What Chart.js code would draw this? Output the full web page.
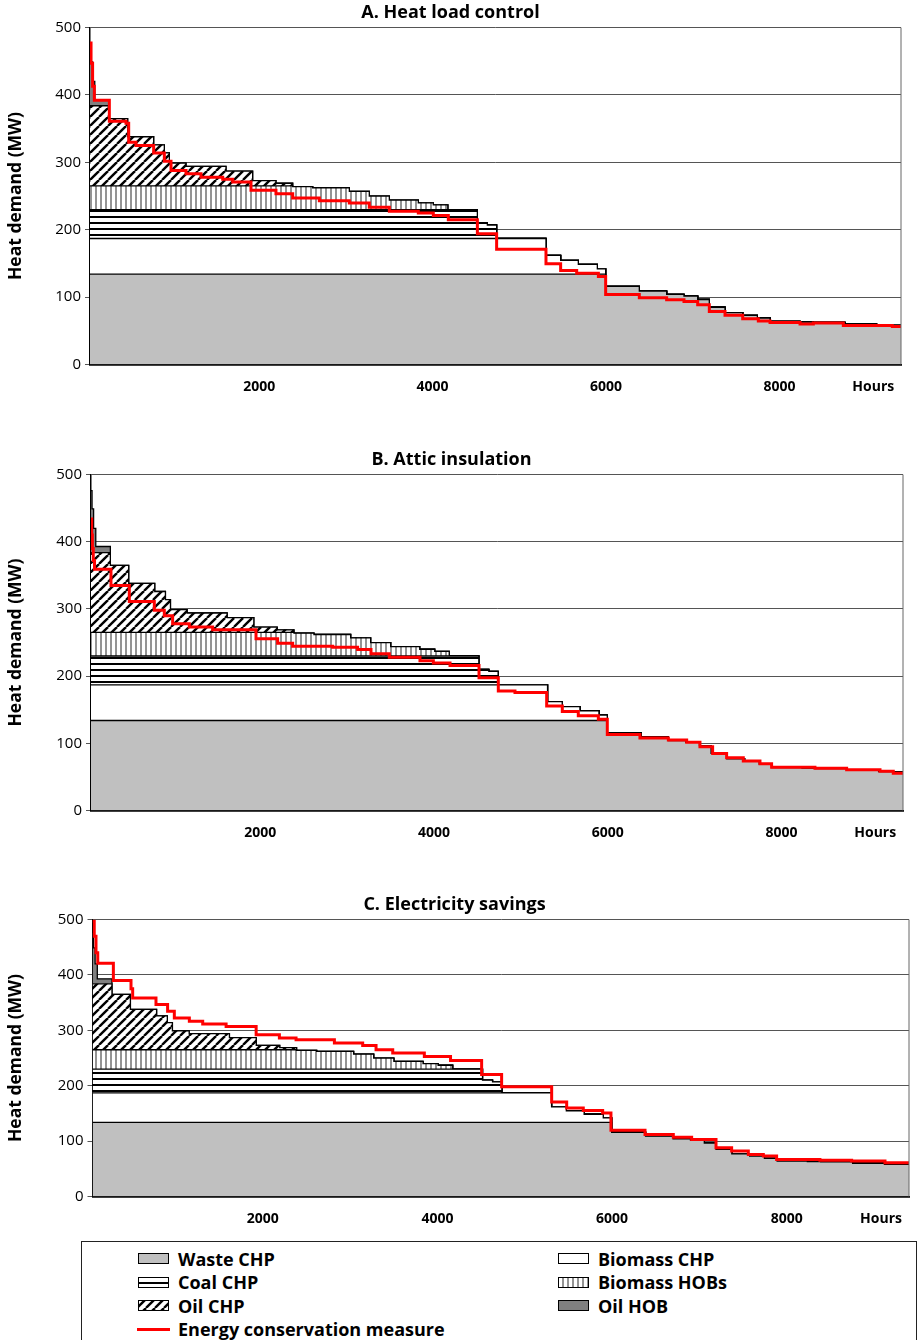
<!DOCTYPE html>
<html>
<head>
<meta charset="utf-8">
<script src="https://cdn.jsdelivr.net/npm/chart.js@4.4.1/dist/chart.umd.min.js"></script>
<style>
  html, body { margin: 0; padding: 0; background: #fff; overflow: hidden; }
  body { position: relative; width: 920px; height: 1340px; font-family: "Open Sans", sans-serif; }
  .panel { position: absolute; left: 0; }
  #legend { position: absolute; left: 81px; top: 1241px; width: 836px; height: 120px;
            border: 1px solid #222; box-sizing: border-box; }
  .item { position: absolute; height: 22px; display: flex; align-items: center;
          font-weight: bold; font-size: 18px; color: #000; white-space: nowrap; }
  .item canvas { margin-right: 8px; }
</style>
</head>
<body>
<div class="panel" id="pA"><canvas id="chartA"></canvas></div>
<div class="panel" id="pB"><canvas id="chartB"></canvas></div>
<div class="panel" id="pC"><canvas id="chartC"></canvas></div>
<div id="legend"></div>

<script>
// base case load duration curve (step starts, MW), shared by all three panels
const baseHours = [50, 62, 80, 105, 273, 484, 784, 907, 965, 1157, 1618, 1925, 2194, 2387, 2617,
  3040, 3270, 3501, 3835, 4008, 4175, 4516, 4631, 4738, 5307, 5476, 5680, 5899, 5995, 6383,
  6698, 6898, 7056, 7190, 7371, 7575, 7744, 7890, 8236, 8389, 8754, 9119, 9400];
const baseDemand = [476, 449, 420, 393, 365, 338, 326, 314, 299, 294, 287, 273, 269, 264, 262,
  257, 250, 244, 240, 237, 230, 210, 207, 187, 162, 154.5, 148.5, 142, 116, 109,
  104, 101.5, 96.5, 85, 77, 73, 69, 64, 63, 62.4, 60, 58, 58];

// units in merit order, and the heat level each one fills up to (MW)
const unitNames = ['Waste CHP', 'Biomass CHP', 'Coal CHP', 'Biomass HOBs', 'Oil CHP', 'Oil HOB'];
const unitTops = [134, 187, 230, 265, 384];

// demand with the energy conservation measure
const hoursA = [50, 62, 80, 100, 273, 465, 496, 580, 784, 907, 984, 1157, 1330, 1580, 1695, 1906,
  2194, 2387, 2694, 3040, 3270, 3501, 3835, 4008, 4181, 4516, 4738, 5307, 5476, 5661, 5911, 5995,
  6383, 6698, 6898, 7056, 7190, 7371, 7575, 7755, 7890, 8236, 8389, 8735, 9300, 9400];
const measureA = [477, 447, 413, 392, 361, 358, 330, 325, 314, 301.5, 288, 283, 278, 275, 271, 258.5,
  253.5, 247, 243, 239.5, 233.5, 227.5, 225, 221, 215, 194, 171, 149.5, 139.5, 135.5, 130.5, 104,
  99, 96, 93.5, 88.5, 78.5, 73, 68, 64.5, 62.5, 60, 61.5, 58, 56.5, 56.5];

const hoursB = [50, 58, 66, 76, 90, 280, 491, 779, 894, 990, 1182, 1451, 1950, 2199, 2372, 2833,
  3120, 3274, 3485, 3838, 3992, 4184, 4518, 4740, 4932, 5297, 5477, 5661, 5892, 5995, 6371, 6698,
  6909, 7062, 7208, 7369, 7561, 7753, 7887, 8386, 8751, 9135, 9288, 9400];
const measureB = [434, 410, 390, 372, 359, 335, 311, 298, 290, 278, 273, 269, 255.5, 249, 244.5, 243,
  239.5, 233.5, 228, 223, 219.5, 216, 197.5, 178, 175.5, 155.5, 147.5, 141, 136, 113, 108, 105,
  101.5, 95, 85, 78.5, 73.5, 69.5, 64.5, 63, 60.5, 58.5, 55.5, 55.5];

const hoursC = [50, 70, 90, 110, 289, 491, 510, 777, 910, 987, 1159, 1312, 1580, 1924, 2190, 2381,
  2820, 3144, 3297, 3488, 3850, 4150, 4506, 4735, 5308, 5480, 5670, 5892, 5987, 6377, 6701, 6911,
  7190, 7369, 7560, 7732, 7884, 8380, 8743, 9125, 9400];
const measureC = [497, 470, 440, 421, 390, 375, 358.5, 346.5, 334.5, 322.5, 316.5, 311.5, 307, 292,
  286, 283, 277, 272.5, 265, 259, 253, 245.5, 220.5, 198, 170.5, 160, 155.5, 151, 119.5, 112, 107,
  103, 88, 82, 76, 73, 67, 65.5, 64, 61, 61];

const xTickValues = [2000, 4000, 6000, 8000];
const yTickValues = [0, 100, 200, 300, 400, 500];
const measureName = 'Energy conservation measure';

// fills
function makePattern(w, h, draw) {
  const c = document.createElement('canvas');
  c.width = w; c.height = h;
  const g = c.getContext('2d');
  g.fillStyle = '#fff';
  g.fillRect(0, 0, w, h);
  draw(g, w, h);
  return g.createPattern(c, 'repeat');
}
const coalFill = makePattern(6, 6, (g, w) => { g.fillStyle = '#000'; g.fillRect(0, 0, w, 2); });
const hobFill = makePattern(5, 5, (g, w, h) => { g.fillStyle = '#949494'; g.fillRect(0, 0, 2, h); });
const oilFill = makePattern(9, 9, (g, w, h) => {
  g.strokeStyle = '#000'; g.lineWidth = 2.4;
  [-w, 0, w].forEach(o => { g.beginPath(); g.moveTo(o, h); g.lineTo(o + w, 0); g.stroke(); });
});
const unitFills = ['#c0c0c0', '#ffffff', coalFill, hobFill, oilFill, '#808080'];

Chart.defaults.font.family = '"Open Sans", sans-serif';
Chart.defaults.color = '#000';

const rightEdge = {
  id: 'rightEdge',
  afterDatasetsDraw(chart) {
    const { ctx, chartArea: a } = chart;
    ctx.save();
    ctx.strokeStyle = '#666';
    ctx.lineWidth = 1;
    ctx.beginPath();
    ctx.moveTo(a.right, a.top);
    ctx.lineTo(a.right, a.bottom);
    ctx.stroke();
    ctx.restore();
  }
};

const HOURS_AT = 9080;

function makePanel(id, wrap, top, height, plotLeft, plotRight, title, hours, measure) {
  const el = document.getElementById(wrap);
  el.style.top = top + 'px';
  const canvas = document.getElementById(id);
  canvas.width = 920;
  canvas.height = height;

  const datasets = unitNames.map((name, i) => ({
    label: name,
    data: baseHours.map((h, k) => ({ x: h, y: i < unitTops.length ? Math.min(baseDemand[k], unitTops[i]) : baseDemand[k] })),
    stepped: true,
    fill: i === 0 ? 'origin' : '-1',
    backgroundColor: unitFills[i],
    borderColor: '#000',
    borderWidth: 1.3,
    pointRadius: 0,
    order: 1
  }));
  datasets.push({
    label: measureName,
    data: hours.map((h, k) => ({ x: h, y: measure[k] })),
    stepped: true,
    fill: false,
    borderColor: '#ff0000',
    borderWidth: 3,
    pointRadius: 0,
    order: 0
  });

  new Chart(canvas, {
    type: 'line',
    data: { datasets },
    options: {
      responsive: false,
      animation: false,
      layout: { padding: { left: 0, right: 920 - plotRight, top: 0, bottom: 0 } },
      plugins: {
        legend: { display: false },
        tooltip: { enabled: false },
        title: {
          display: true,
          text: title,
          font: { size: 18, weight: 'bold' },
          padding: { top: 2, bottom: 4 }
        }
      },
      scales: {
        x: {
          type: 'linear',
          min: 50,
          max: 9400,
          afterBuildTicks: s => { s.ticks = xTickValues.concat([HOURS_AT]).map(v => ({ value: v })); },
          afterFit: s => { s.height = 35.5; },
          ticks: {
            autoSkip: false,
            maxRotation: 0,
            padding: 14,
            font: { size: 14, weight: 'bold' },
            callback: v => (v === HOURS_AT ? 'Hours' : String(v))
          },
          grid: { display: false, drawTicks: false },
          border: { display: true, color: '#000', width: 1.8 }
        },
        y: {
          min: 0,
          max: 500,
          afterBuildTicks: s => { s.ticks = yTickValues.map(v => ({ value: v })); },
          afterFit: s => { s.width = plotLeft; },
          ticks: { padding: 4, font: { size: 15 } },
          grid: { color: '#555', lineWidth: 1, tickLength: 5 },
          border: { display: true, color: '#000', width: 1.5 },
          title: {
            display: true,
            text: 'Heat demand (MW)',
            font: { size: 17.5, weight: 'bold' },
            padding: { top: 6, bottom: 0 }
          }
        }
      }
    },
    plugins: [rightEdge]
  });
}

makePanel('chartA', 'pA', 0, 400, 90, 901, 'A. Heat load control', hoursA, measureA);
makePanel('chartB', 'pB', 447, 399, 91, 903, 'B. Attic insulation', hoursB, measureB);
makePanel('chartC', 'pC', 892, 340, 92.5, 909, 'C. Electricity savings', hoursC, measureC);

// legend: units alternate between two columns, measure last in the first column
const legend = document.getElementById('legend');
function addItem(col, row, label, drawSwatch) {
  const div = document.createElement('div');
  div.className = 'item';
  div.style.left = (col === 0 ? 55 : 475) + 'px';
  div.style.top = (5.8 + row * 23.5) + 'px';
  const sw = document.createElement('canvas');
  sw.width = 33; sw.height = 13;
  drawSwatch(sw.getContext('2d'));
  div.appendChild(sw);
  div.appendChild(document.createTextNode(label));
  legend.appendChild(div);
}
unitNames.forEach((name, i) => {
  addItem(i % 2, Math.floor(i / 2), name, g => {
    g.fillStyle = unitFills[i];
    g.fillRect(1, 1, 31, 11);
    g.strokeStyle = '#000';
    g.lineWidth = 1;
    g.strokeRect(1.5, 1.5, 30, 10);
  });
});
addItem(0, 3, measureName, g => {
  g.fillStyle = '#ff0000';
  g.fillRect(0, 5, 33, 3);
});
</script>
</body>
</html>
